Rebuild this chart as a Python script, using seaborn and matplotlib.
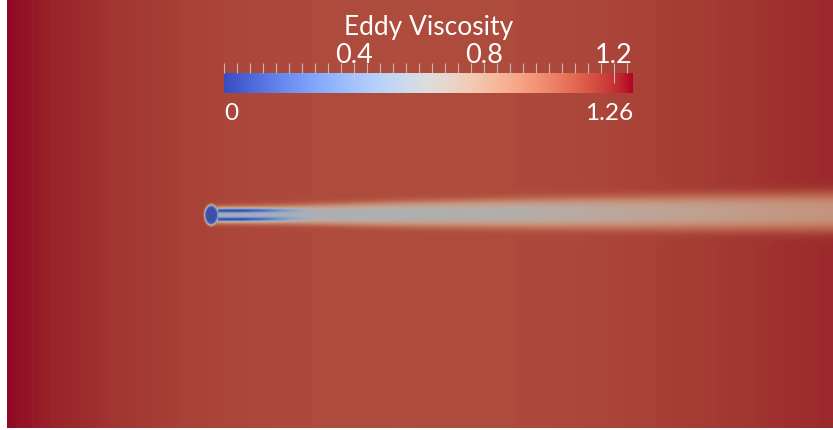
import numpy as np
import matplotlib
matplotlib.use("Agg")
import matplotlib.pyplot as plt
import matplotlib.transforms as mtransforms
from matplotlib.colors import ListedColormap
import seaborn as sns

# ---- field description (lengths in body diameters, body at origin) ----
x_range = [-12.75, 38.875]
y_range = [-13.3125, 13.5]
nx, ny = 826, 429

# free-stream eddy viscosity across the domain
bg_x = [-12.75, -11.94, -10.38, -8.19, -5.69, -2.56, 1.19, 5.56, 11.81,
        18.06, 24.31, 30.56, 35.56, 38.875]
bg_val = [1.26, 1.245, 1.225, 1.20, 1.175, 1.15, 1.13, 1.118, 1.112,
          1.115, 1.13, 1.16, 1.19, 1.205]

# wake: centreline position, value and half width
wake_x = [0.4, 5.0, 12.0, 20.0, 28.0, 38.875]
wake_yc = [0.0, 0.02, 0.06, 0.10, 0.14, 0.19]
wake_val = [0.60, 0.60, 0.62, 0.66, 0.74, 0.84]
wake_w = [0.50, 0.55, 0.72, 0.85, 0.98, 1.15]

# shear layers shed from the body edges
shear_x = [0.4, 2.0, 3.5, 5.0, 6.5]
shear_amp = [1.0, 1.0, 0.75, 0.35, 0.0]
shear_offset = 0.27
shear_thick = 0.14
shear_val = 0.05

# body
body_a, body_b = 0.41, 0.625
body_val = 0.06

# colour bar
vmin, vmax = 0.0, 1.26
major_ticks = [0.4, 0.8, 1.2]
minor_ticks = np.arange(0.0, 1.245, 0.04)
bar_title = "Eddy Viscosity"

# ---- build the field ----
xs = np.linspace(x_range[0], x_range[1], nx)
ys = np.linspace(y_range[1], y_range[0], ny)  # top row first
X, Y = np.meshgrid(xs, ys)

V = np.interp(X, bg_x, bg_val)

yc = np.interp(X, wake_x, wake_yc)
dy = np.abs(Y - yc)
w = np.interp(X, wake_x, wake_w)
onset = 1.0 / (1.0 + np.exp(-(X - 0.25) / 0.08))
f = np.exp(-(dy / w) ** 3) * onset
V = V + (np.interp(X, wake_x, wake_val) - V) * f

amp = np.interp(X, shear_x, shear_amp, left=0.0, right=0.0) * onset
g = np.exp(-((dy - shear_offset) / shear_thick) ** 2) * amp
V = V + (shear_val - V) * g

r = np.sqrt((X / body_a) ** 2 + (Y / body_b) ** 2)
h = 1.0 / (1.0 + np.exp((r - 1.0) / 0.07))
V = V + (body_val - V) * h

# ---- colour maps ----
base = sns.color_palette("coolwarm", as_cmap=True)
rgb = base(np.linspace(0, 1, 256))[:, :3]
shaded = ListedColormap(np.clip(rgb * 0.77 + 0.02, 0, 1))

# ---- figure ----
W, H = 833, 431
fig = plt.figure(figsize=(W / 100, H / 100), dpi=100)
fig.patch.set_facecolor("white")

ax = fig.add_axes([7 / W, 2 / H, 826 / W, 429 / H])
sns.heatmap(V, cmap=shaded, vmin=vmin, vmax=vmax, cbar=False,
            xticklabels=False, yticklabels=False, ax=ax, rasterized=True)
ax.set_xlabel("")
ax.set_ylabel("")

# colour bar
cax = fig.add_axes([224 / W, 1 - 94 / H, 409 / W, 20 / H])
grad = np.linspace(vmin, vmax, 512)[np.newaxis, :]
cax.imshow(grad, extent=[vmin, vmax, 0, 1], aspect="auto", cmap=base,
           vmin=vmin, vmax=vmax, interpolation="bilinear")
cax.set_xlim(vmin, vmax)
cax.set_ylim(0, 1)
for s in cax.spines.values():
    s.set_visible(False)
cax.set_yticks([])
cax.xaxis.set_ticks_position("top")
cax.set_xticks(major_ticks)
cax.set_xticklabels([])
cax.set_xticks(minor_ticks, minor=True)
tick_col = (0.8, 0.8, 0.8, 0.85)
cax.tick_params(axis="x", which="major", direction="inout", length=13.7,
                width=0.8, color=tick_col, top=True, bottom=False)
cax.tick_params(axis="x", which="minor", direction="out", length=7.2,
                width=0.8, color=tick_col, top=True, bottom=False)

font = ["Lato", "DejaVu Sans"]
tr = mtransforms.blended_transform_factory(cax.transData, fig.transFigure)
for v in major_ticks:
    cax.text(v, 1 - 63 / H, f"{v:g}", transform=tr, ha="center", va="baseline",
             color="white", fontsize=19.5, family=font)
cax.text(vmin, 1 - 120 / H, f"{vmin:g}", transform=tr, ha="left", va="baseline",
         color="white", fontsize=17.6, family=font)
cax.text(vmax, 1 - 120 / H, f"{vmax:g}", transform=tr, ha="right", va="baseline",
         color="white", fontsize=17.6, family=font)
cax.text((vmin + vmax) / 2, 1 - 35 / H, bar_title, transform=tr, ha="center",
         va="baseline", color="white", fontsize=19, family=font)

fig.savefig("out.png", dpi=100, facecolor="white")
